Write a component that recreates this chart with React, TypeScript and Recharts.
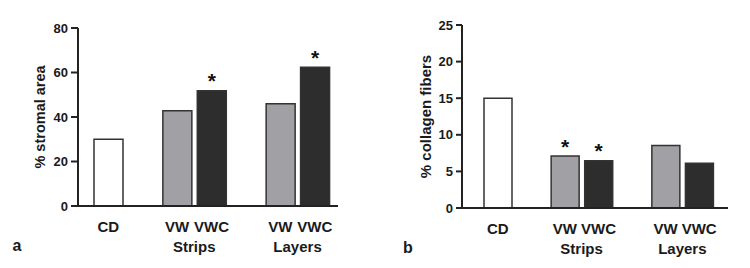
import React from 'react';
import { BarChart, Bar, XAxis, YAxis, Cell, LabelList } from 'recharts';

// ---- data ----
const categories = ['CD', '', 'VW', 'VWC', '', 'VW', 'VWC'];
const groupLabels = ['', '', 'Strips', '', '', 'Layers', ''];
const stromalArea = [30.0, null, 42.8, 51.8, null, 45.9, 62.4];
const stromalSig = [false, false, false, true, false, false, true];
const collagenFibers = [15.0, null, 7.1, 6.45, null, 8.55, 6.1];
const collagenSig = [false, false, true, true, false, false, false];
const stromalTicks = [0, 20, 40, 60, 80];
const collagenTicks = [0, 5, 10, 15, 20, 25];

// ---- style ----
const FONT = '"Liberation Sans", Arial, Helvetica, sans-serif';
const INK = '#1a1a1a';
const AXIS = '#222222';
const fillFor: Record<string, string> = { CD: '#ffffff', VW: '#a1a1a5', VWC: '#2d2d2d' };

const buildRows = (values: (number | null)[], sig: boolean[]) =>
  categories.map((c, i) => ({ cat: c, group: groupLabels[i], value: values[i], sig: sig[i] }));

const dataA = buildRows(stromalArea, stromalSig);
const dataB = buildRows(collagenFibers, collagenSig);

const CatTick = (props: any) => {
  const { x, y, payload, index, half } = props;
  const i = index ?? payload?.index ?? 0;
  const g = groupLabels[i];
  return (
    <g>
      <text x={x} y={y + 26} textAnchor="middle" fontSize={15} fontWeight="bold" fill={INK} fontFamily={FONT}>
        {payload.value}
      </text>
      {g ? (
        <text x={x + half} y={y + 46} textAnchor="middle" fontSize={15} fontWeight="bold" fill={INK} fontFamily={FONT}>
          {g}
        </text>
      ) : null}
    </g>
  );
};

const YTitle = (props: any) => {
  const vb = props.viewBox || { x: 0, y: 0, width: 0, height: 0 };
  const cx = vb.x + props.cx;
  const cy = vb.y + vb.height / 2 + (props.dy || 0);
  return (
    <text
      transform={`translate(${cx}, ${cy}) rotate(-90)`}
      textAnchor="middle"
      dominantBaseline="central"
      fontSize={props.size}
      fontWeight="bold"
      fill={INK}
      fontFamily={FONT}
    >
      {props.text}
    </text>
  );
};

const PanelLetter = (props: any) => {
  const vb = props.viewBox || { x: 0, y: 0, width: 0, height: 0 };
  return (
    <text x={vb.x + props.dx} y={vb.y + 45} textAnchor="middle" fontSize={16} fontWeight="bold" fill={INK} fontFamily={FONT}>
      {props.text}
    </text>
  );
};

const Star = (props: any) => {
  const { x, y, width, value } = props;
  if (!value) return null;
  return (
    <text x={x + width / 2} y={y - 2.5} textAnchor="middle" fontSize={21} fontWeight="bold" fill="#111" fontFamily={FONT}>
      *
    </text>
  );
};

const Panel = (p: {
  data: any[];
  ticks: number[];
  top: number;
  right: number;
  yWidth: number;
  xHeight: number;
  padL: number;
  padR: number;
  barSize: number;
  half: number;
  title: string;
  titleCx: number;
  titleSize: number;
  letter: string;
  letterDx: number;
  tickSize: number;
}) => (
  <BarChart
    width={375}
    height={268}
    data={p.data}
    margin={{ top: p.top, right: p.right, bottom: 0, left: 0 }}
  >
    <XAxis
      dataKey="cat"
      type="category"
      interval={0}
      height={p.xHeight}
      padding={{ left: p.padL, right: p.padR }}
      tickLine={false}
      tickSize={0}
      tickMargin={0}
      axisLine={{ stroke: AXIS, strokeWidth: 2 }}
      tick={(tp: any) => <CatTick {...tp} half={p.half} />}
      label={<PanelLetter text={p.letter} dx={p.letterDx} />}
    />
    <YAxis
      type="number"
      width={p.yWidth}
      domain={[p.ticks[0], p.ticks[p.ticks.length - 1]]}
      ticks={p.ticks}
      interval={0}
      tickSize={p.tickSize}
      tickMargin={3}
      axisLine={{ stroke: AXIS, strokeWidth: 2 }}
      tickLine={{ stroke: AXIS, strokeWidth: 2 }}
      tick={{ fontSize: 13, fontWeight: 'bold', fill: INK, fontFamily: FONT }}
      label={<YTitle text={p.title} cx={p.titleCx} size={p.titleSize} />}
    />
    <Bar dataKey="value" barSize={p.barSize} stroke="#333" strokeWidth={1.5} isAnimationActive={false}>
      {p.data.map((r, i) => (
        <Cell key={i} fill={fillFor[r.cat] ?? 'none'} />
      ))}
      <LabelList dataKey="sig" content={Star} />
    </Bar>
  </BarChart>
);

export default function App() {
  return (
    <div style={{ position: 'absolute', left: 0, top: 0, width: 750, height: 268, background: '#fff', fontFamily: FONT }}>
      <div style={{ position: 'absolute', left: 0, top: 0 }}>
        <Panel
          data={dataA}
          ticks={stromalTicks}
          top={28}
          right={37}
          yWidth={78}
          xHeight={62}
          padL={13}
          padR={6}
          barSize={29}
          half={17.2}
          title="% stromal area"
          titleCx={40}
          titleSize={14.5}
          letter="a"
          letterDx={-61}
          tickSize={7}
        />
      </div>
      <div style={{ position: 'absolute', left: 375, top: 0 }}>
        <Panel
          data={dataB}
          ticks={collagenTicks}
          top={25}
          right={22}
          yWidth={87}
          xHeight={60}
          padL={19}
          padR={12}
          barSize={28}
          half={16.7}
          title="% collagen fibers"
          titleCx={50}
          titleSize={15}
          letter="b"
          letterDx={-54}
          tickSize={6}
        />
      </div>
    </div>
  );
}
